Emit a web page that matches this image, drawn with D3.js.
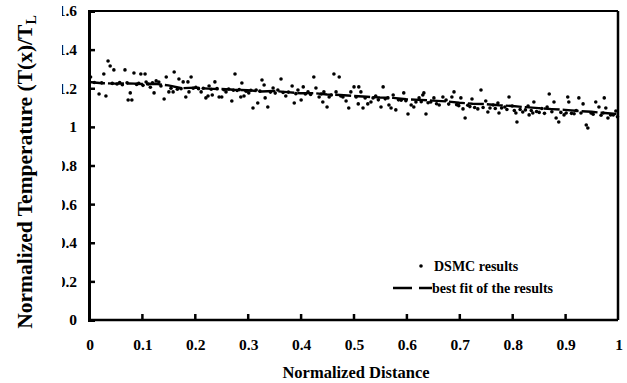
<!DOCTYPE html>
<html>
<head>
<meta charset="utf-8">
<script src="https://cdn.jsdelivr.net/npm/d3@7"></script>
<style>
  body { margin: 0; background: #fff; }
  text { font-family: "Liberation Serif", "Times New Roman", serif; font-weight: bold; fill: #000; }
</style>
</head>
<body>
<svg id="chart" width="627" height="383"></svg>
<script>
// DSMC results: [normalized distance, normalized temperature]
const dsmcPoints = [
  [0.003,1.258],[0.010,1.230],[0.019,1.170],[0.024,1.228],[0.028,1.274],[0.032,1.160],[0.036,1.341],[0.040,1.315],
  [0.044,1.225],[0.047,1.295],[0.053,1.222],[0.058,1.230],[0.063,1.218],[0.068,1.295],[0.072,1.228],[0.074,1.139],
  [0.078,1.176],[0.081,1.139],[0.085,1.279],[0.090,1.220],[0.094,1.225],[0.098,1.274],[0.102,1.215],[0.106,1.274],
  [0.108,1.232],[0.112,1.222],[0.116,1.205],[0.120,1.228],[0.123,1.176],[0.127,1.238],[0.132,1.232],[0.136,1.212],
  [0.142,1.144],[0.146,1.258],[0.151,1.181],[0.155,1.200],[0.159,1.181],[0.161,1.284],[0.167,1.195],
  [0.170,1.248],[0.174,1.198],[0.178,1.233],[0.183,1.155],[0.187,1.233],[0.189,1.181],[0.193,1.258],[0.197,1.200],
  [0.202,1.205],[0.207,1.198],[0.212,1.181],[0.216,1.200],[0.221,1.150],[0.225,1.160],[0.227,1.212],[0.231,1.195],
  [0.233,1.165],[0.238,1.233],[0.242,1.198],[0.246,1.155],[0.251,1.155],[0.255,1.192],[0.259,1.181],[0.264,1.196],
  [0.270,1.134],[0.273,1.190],[0.276,1.274],[0.280,1.188],[0.284,1.193],[0.287,1.155],[0.289,1.227],[0.293,1.160],
  [0.297,1.185],[0.302,1.176],[0.306,1.190],[0.310,1.098],[0.316,1.191],[0.319,1.124],[0.323,1.185],[0.327,1.243],
  [0.331,1.217],[0.333,1.150],
  [0.338,1.103],[0.343,1.180],[0.348,1.201],[0.352,1.175],[0.357,1.191],[0.363,1.248],[0.367,1.178],[0.372,1.160],
  [0.377,1.180],[0.384,1.212],[0.388,1.124],[0.391,1.172],[0.395,1.191],[0.401,1.139],[0.405,1.207],[0.409,1.170],
  [0.414,1.181],[0.419,1.168],[0.425,1.258],[0.429,1.201],[0.435,1.155],[0.439,1.170],[0.442,1.129],[0.444,1.181],
  [0.450,1.103],[0.454,1.155],[0.458,1.165],[0.463,1.274],[0.467,1.181],[0.473,1.258],[0.476,1.160],[0.480,1.155],
  [0.486,1.134],[0.491,1.098],[0.495,1.181],[0.501,1.207],
  [0.505,1.155],[0.509,1.119],[0.510,1.207],[0.514,1.181],[0.518,1.098],[0.522,1.150],[0.527,1.119],[0.533,1.129],
  [0.537,1.150],[0.542,1.160],[0.547,1.140],[0.552,1.103],[0.556,1.207],[0.560,1.145],[0.565,1.150],[0.567,1.113],
  [0.571,1.098],[0.575,1.165],[0.580,1.088],[0.585,1.140],[0.590,1.138],[0.595,1.176],[0.599,1.135],[0.603,1.067],
  [0.609,1.113],[0.614,1.103],[0.618,1.129],[0.624,1.150],[0.628,1.130],[0.631,1.165],[0.633,1.176],[0.637,1.067],
  [0.641,1.125],[0.646,1.129],[0.652,1.150],[0.657,1.120],[0.662,1.113],[0.669,1.155],[0.675,1.139],
  [0.680,1.118],[0.686,1.155],[0.690,1.181],[0.695,1.115],[0.699,1.110],[0.703,1.150],[0.707,1.093],[0.711,1.046],
  [0.716,1.112],[0.720,1.105],[0.724,1.144],[0.729,1.100],[0.735,1.093],[0.741,1.191],[0.745,1.100],[0.750,1.134],
  [0.754,1.077],[0.758,1.098],[0.764,1.113],[0.768,1.095],[0.773,1.124],[0.775,1.072],[0.780,1.098],[0.786,1.103],
  [0.790,1.090],[0.794,1.155],[0.800,1.108],[0.804,1.085],[0.807,1.072],[0.809,1.025],[0.815,1.090],[0.820,1.077],
  [0.825,1.088],[0.830,1.108],[0.832,1.062],[0.836,1.085],[0.839,1.072],[0.841,1.129],
  [0.846,1.080],[0.851,1.075],[0.856,1.095],[0.861,1.070],[0.866,1.103],[0.870,1.170],[0.875,1.078],[0.879,1.129],
  [0.883,1.046],[0.888,1.025],[0.892,1.075],[0.898,1.062],[0.902,1.072],[0.905,1.155],[0.907,1.129],[0.912,1.070],
  [0.917,1.068],[0.921,1.085],[0.926,1.150],[0.930,1.072],[0.934,1.119],[0.940,1.010],[0.943,0.994],[0.949,1.072],
  [0.953,1.065],[0.958,1.129],[0.964,1.103],[0.968,1.060],[0.972,1.072],[0.974,1.150],[0.977,1.098],[0.981,1.046],
  [0.986,1.062],[0.991,1.062],[0.996,1.082],[0.999,1.052]
];

// best fit of the results
const fitX = [0,0.025,0.05,0.075,0.1,0.125,0.15,0.175,0.2,0.225,0.25,0.275,0.3,0.325,0.35,0.375,0.4,0.425,0.45,0.475,
  0.5,0.525,0.55,0.575,0.6,0.625,0.65,0.675,0.7,0.725,0.75,0.775,0.8,0.825,0.85,0.875,0.9,0.925,0.95,0.975,1];
const fitY = [1.232,1.226,1.224,1.225,1.222,1.223,1.215,1.200,1.203,1.198,1.196,1.192,1.190,1.183,1.186,1.180,1.174,
  1.175,1.168,1.165,1.160,1.156,1.152,1.150,1.143,1.140,1.136,1.132,1.125,1.120,1.118,1.112,1.108,1.102,1.097,1.092,
  1.088,1.082,1.078,1.072,1.066];

const xTicks = [0,0.1,0.2,0.3,0.4,0.5,0.6,0.7,0.8,0.9,1];
const yTicks = [0,0.2,0.4,0.6,0.8,1,1.2,1.4,1.6];

const svg = d3.select("#chart");
const plotLeft = 89, plotRight = 618, plotTop = 11, plotBottom = 320;

const x = d3.scaleLinear().domain([0, 1]).range([plotLeft, plotRight]);
const y = d3.scaleLinear().domain([0, 1.6]).range([plotBottom, plotTop]);

// frame
svg.append("line").attr("x1", plotLeft).attr("x2", plotRight).attr("y1", plotTop).attr("y2", plotTop)
  .attr("stroke", "#000").attr("stroke-width", 2);
svg.append("line").attr("x1", plotRight).attr("x2", plotRight).attr("y1", plotTop).attr("y2", plotBottom)
  .attr("stroke", "#000").attr("stroke-width", 2.5);

// y axis
const yAxis = svg.append("g").attr("transform", `translate(${plotLeft},0)`)
  .call(d3.axisRight(y).tickValues(yTicks).tickSize(6).tickFormat(""));
yAxis.select(".domain").attr("stroke-width", 3);
yAxis.selectAll(".tick line").attr("stroke-width", 2.5);

// clipped y labels (left edge of the scan is cut off)
svg.append("clipPath").attr("id", "lblclip")
  .append("rect").attr("x", 62).attr("y", 0).attr("width", 40).attr("height", 383);
svg.append("g").attr("clip-path", "url(#lblclip)")
  .selectAll("text").data(yTicks).join("text")
  .attr("x", 77).attr("y", d => y(d)).attr("dy", "0.35em")
  .attr("text-anchor", "end").attr("font-size", 15.5)
  .text(d => d3.format("")(d));

// x axis
const xAxis = svg.append("g").attr("transform", `translate(0,${plotBottom})`)
  .call(d3.axisTop(x).tickValues(xTicks.slice(1, -1)).tickSize(6).tickFormat(""));
xAxis.select(".domain").attr("stroke-width", 2.5).attr("d", `M${plotLeft},0H${plotRight}`);
xAxis.selectAll(".tick line").attr("stroke-width", 2.5);

svg.append("g").selectAll("text").data(xTicks).join("text")
  .attr("x", d => x(d) + 1).attr("y", 350)
  .attr("text-anchor", "middle").attr("font-size", 15.5)
  .text(d => d3.format("")(d));

// titles
svg.append("text").attr("x", 356).attr("y", 378).attr("text-anchor", "middle")
  .attr("font-size", 16.5).text("Normalized Distance");

const yt = svg.append("text").attr("transform", "translate(32,172) rotate(-90)")
  .attr("text-anchor", "middle").attr("font-size", 21.5);
yt.append("tspan").text("Normalized Temperature (T(x)/T");
yt.append("tspan").attr("font-size", 14).attr("dy", 4).text("L");

// fit line
svg.append("path")
  .datum(fitX.map((d, i) => [d, fitY[i]]))
  .attr("fill", "none").attr("stroke", "#000").attr("stroke-width", 2.4)
  .attr("stroke-dasharray", "16,3")
  .attr("d", d3.line().x(d => x(d[0])).y(d => y(d[1])));

// DSMC points
svg.append("g").selectAll("circle").data(dsmcPoints).join("circle")
  .attr("cx", d => x(d[0])).attr("cy", d => y(d[1])).attr("r", 1.8).attr("fill", "#000");

// legend
svg.append("circle").attr("cx", 421).attr("cy", 266).attr("r", 1.8).attr("fill", "#000");
svg.append("text").attr("x", 434).attr("y", 271).attr("font-size", 14).text("DSMC results");
svg.append("line").attr("x1", 393).attr("x2", 432).attr("y1", 288).attr("y2", 288)
  .attr("stroke", "#000").attr("stroke-width", 2.4).attr("stroke-dasharray", "19,7");
svg.append("text").attr("x", 432).attr("y", 293).attr("font-size", 14).text("best fit of the results");
</script>
</body>
</html>
